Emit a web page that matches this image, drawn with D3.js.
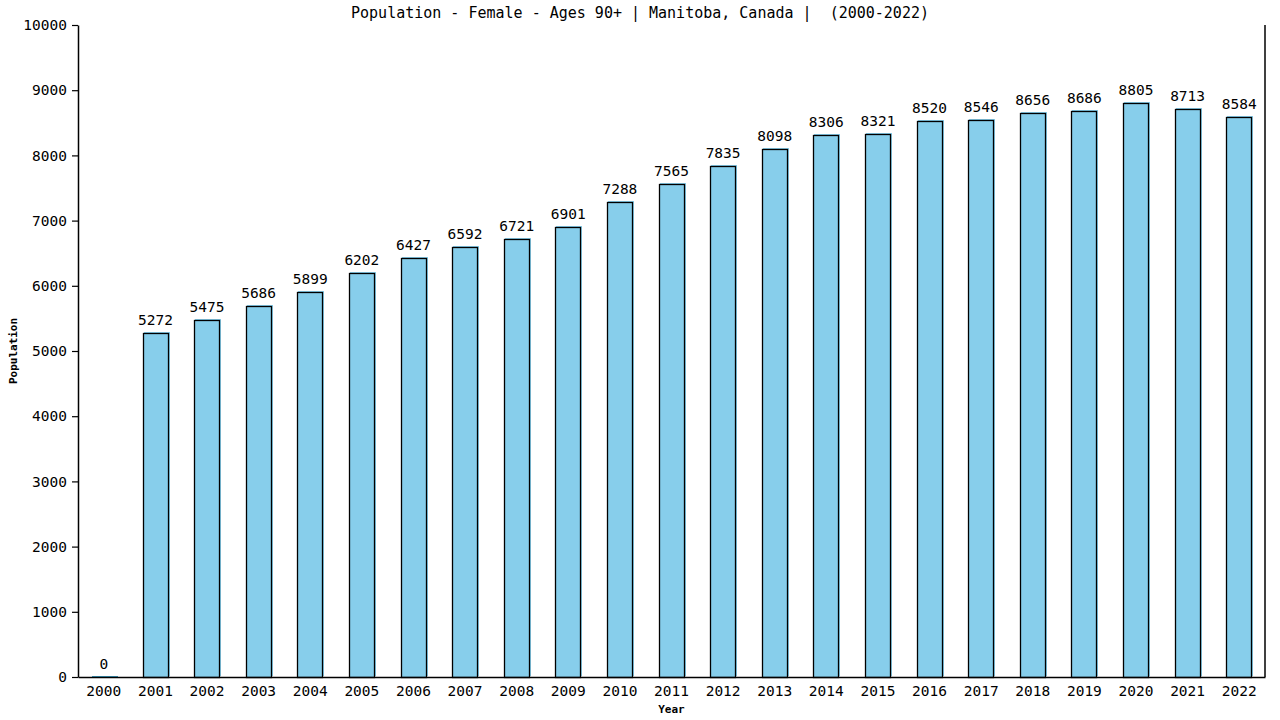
<!DOCTYPE html>
<html>
<head>
<meta charset="utf-8">
<script src="https://cdn.jsdelivr.net/npm/d3@7"></script>
<style>
  body { margin: 0; background: #fff; }
  text { font-family: "DejaVu Sans Mono", "Liberation Mono", monospace; fill: #000; }
</style>
</head>
<body>
<script>
const width = 1280;
const height = 720;
const margin = { top: 25, right: 15, bottom: 43, left: 78 };

const titleText = "Population - Female - Ages 90+ | Manitoba, Canada |  (2000-2022)";
const years = ["2000","2001","2002","2003","2004","2005","2006","2007","2008","2009","2010","2011",
               "2012","2013","2014","2015","2016","2017","2018","2019","2020","2021","2022"];
const population = [0,5272,5475,5686,5899,6202,6427,6592,6721,6901,7288,7565,
                    7835,8098,8306,8321,8520,8546,8656,8686,8805,8713,8584];
const yTicks = [0,1000,2000,3000,4000,5000,6000,7000,8000,9000,10000];

const data = years.map((y, i) => ({ year: y, value: population[i] }));

const svg = d3.select(document.body).append("svg")
    .attr("width", width)
    .attr("height", height);

const x = d3.scaleBand()
    .domain(years)
    .range([margin.left, width - margin.right])
    .paddingInner(0.5)
    .paddingOuter(0.25);

const y = d3.scaleLinear()
    .domain([0, 10000])
    .range([height - margin.bottom, margin.top]);

// bars: blue offset layer, then outlined body
const bars = svg.append("g");
bars.selectAll("rect.shadow")
    .data(data)
    .join("rect")
    .attr("class", "shadow")
    .attr("x", d => Math.round(x(d.year)) + 1)
    .attr("y", d => Math.round(y(d.value)) - 1)
    .attr("width", Math.round(x.bandwidth()))
    .attr("height", d => Math.max(1, Math.round(y(0)) - Math.round(y(d.value))))
    .attr("fill", d => d.value > 0 ? "#87ceeb" : "#3d9bbf");

bars.selectAll("rect.body")
    .data(data.filter(d => d.value > 0))
    .join("rect")
    .attr("class", "body")
    .attr("x", d => Math.round(x(d.year)) + 0.5)
    .attr("y", d => Math.round(y(d.value)) + 0.5)
    .attr("width", Math.round(x.bandwidth()) - 1)
    .attr("height", d => Math.round(y(0)) - Math.round(y(d.value)))
    .attr("fill", "#87ceeb")
    .attr("stroke", "#000")
    .attr("stroke-width", 1.3);

// value labels
svg.append("g")
    .selectAll("text")
    .data(data)
    .join("text")
    .attr("x", d => x(d.year) + x.bandwidth() / 2)
    .attr("y", d => y(d.value) - 8)
    .attr("text-anchor", "middle")
    .style("font-size", "14.5px")
    .text(d => d.value);

// y axis
const yAxis = svg.append("g")
    .attr("transform", `translate(${margin.left},0)`)
    .call(d3.axisLeft(y).tickValues(yTicks).tickFormat(d3.format("d"))
        .tickSize(6).tickPadding(5).tickSizeOuter(0));
yAxis.select(".domain").attr("stroke", "#000").attr("stroke-width", 1.5);
yAxis.selectAll(".tick line").attr("stroke", "#000").attr("stroke-width", 1.2);
yAxis.selectAll(".tick text")
    .style("font-family", "DejaVu Sans Mono, monospace")
    .style("font-size", "14.5px")
    .attr("fill", "#000");

// x axis
const xAxis = svg.append("g")
    .attr("transform", `translate(0,${height - margin.bottom})`)
    .call(d3.axisBottom(x).tickSize(0).tickPadding(9).tickSizeOuter(0));
xAxis.select(".domain").attr("stroke", "#000").attr("stroke-width", 1.5);
xAxis.selectAll(".tick text")
    .style("font-family", "DejaVu Sans Mono, monospace")
    .style("font-size", "14.5px")
    .attr("fill", "#000");

// right border
svg.append("line")
    .attr("x1", width - margin.right).attr("x2", width - margin.right)
    .attr("y1", margin.top).attr("y2", height - margin.bottom)
    .attr("stroke", "#000")
    .attr("stroke-width", 1.5);

// title
svg.append("text")
    .attr("x", width / 2)
    .attr("y", 18)
    .attr("text-anchor", "middle")
    .style("font-size", "15px")
    .style("white-space", "pre")
    .text(titleText);

// axis titles
svg.append("text")
    .attr("x", (margin.left + width - margin.right) / 2)
    .attr("y", 713)
    .attr("text-anchor", "middle")
    .style("font-size", "11px")
    .style("font-weight", "bold")
    .text("Year");

svg.append("text")
    .attr("transform", `translate(17,${(margin.top + height - margin.bottom) / 2}) rotate(-90)`)
    .attr("text-anchor", "middle")
    .style("font-size", "11px")
    .style("font-weight", "bold")
    .text("Population");
</script>
</body>
</html>
